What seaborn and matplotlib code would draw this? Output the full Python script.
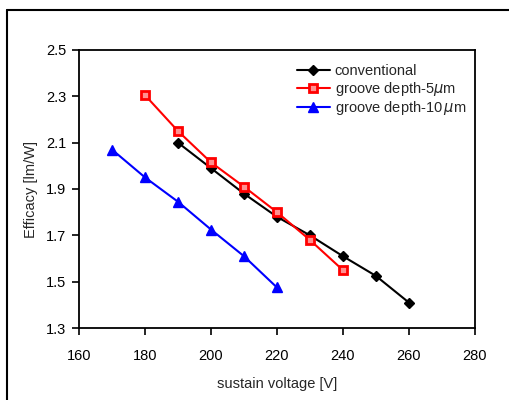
import matplotlib
matplotlib.use("Agg")
import matplotlib.pyplot as plt
import seaborn as sns
import pandas as pd

# data
conv_v = [190, 200, 210, 220, 230, 240, 250, 260]
conv_eff = [2.10, 1.99, 1.88, 1.78, 1.70, 1.61, 1.525, 1.41]
g5_v = [180, 190, 200, 210, 220, 230, 240]
g5_eff = [2.305, 2.15, 2.015, 1.91, 1.80, 1.68, 1.55]
g10_v = [170, 180, 190, 200, 210, 220]
g10_eff = [2.07, 1.95, 1.845, 1.725, 1.61, 1.475]

labels = ["conventional", "groove depth-5$\\mu$m", "groove depth-10$\\,\\mu$m"]
colors = ["black", "red", "blue"]
markers = ["D", "s", "^"]
faces = ["black", "#ff9090", "blue"]
sizes = [5, 6, 6.5]

sns.set_style("ticks")
plt.rcParams["font.family"] = ["Liberation Sans", "DejaVu Sans"]
plt.rcParams["mathtext.fontset"] = "dejavusans"

df = pd.concat([
    pd.DataFrame({"v": conv_v, "eff": conv_eff, "series": labels[0]}),
    pd.DataFrame({"v": g5_v, "eff": g5_eff, "series": labels[1]}),
    pd.DataFrame({"v": g10_v, "eff": g10_eff, "series": labels[2]}),
])

fig = plt.figure(figsize=(5.1, 4.0), dpi=100)
ax = fig.add_axes([0.155, 0.18, 0.776, 0.695])

for lab, col, mk, fc, ms in zip(labels, colors, markers, faces, sizes):
    sub = df[df["series"] == lab]
    sns.lineplot(data=sub, x="v", y="eff", ax=ax, color=col, marker=mk,
                 markersize=ms, markerfacecolor=fc, markeredgecolor=col,
                 markeredgewidth=2.0 if mk == "s" else 1.0, linewidth=1.5,
                 label=lab)

ax.set_xlim(160, 280)
ax.set_ylim(1.3, 2.5)
ax.set_xticks(range(160, 281, 20))
ax.set_yticks([1.3, 1.5, 1.7, 1.9, 2.1, 2.3, 2.5])
ax.set_yticklabels(["1.3", "1.5", "1.7", "1.9", "2.1", "2.3", "2.5"])
ax.tick_params(labelsize=10.5, direction="out", length=5, width=1.2, colors="black")
ax.tick_params(axis="x", pad=10)
ax.tick_params(axis="y", pad=4)
for s in ax.spines.values():
    s.set_linewidth(1.3)
    s.set_color("black")
ax.set_xlabel("sustain voltage [V]", fontsize=10.5, labelpad=10)
ax.set_ylabel("Efficacy [lm/W]", fontsize=10.5, labelpad=6)

leg = ax.legend(loc="upper right", frameon=False, fontsize=10.5,
                handlelength=2.3, handletextpad=0.3, labelspacing=0.1,
                borderaxespad=0.2, bbox_to_anchor=(1.0, 0.98))

# outer frame (only top and left edges visible)
fig.add_artist(plt.Line2D([7 / 510, 1.0], [0.975, 0.975], color="black", linewidth=1.5))
fig.add_artist(plt.Line2D([7 / 510, 7 / 510], [0.0, 0.975], color="black", linewidth=1.5))

fig.savefig("out.png", dpi=100)
